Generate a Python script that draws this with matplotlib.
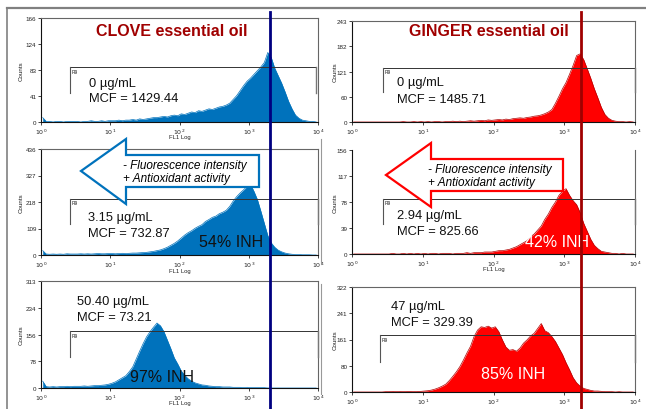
import matplotlib
matplotlib.use('Agg')
import matplotlib.pyplot as plt
import numpy as np
from matplotlib.patches import Polygon
from matplotlib.lines import Line2D

plt.rcParams['font.family'] = ['Liberation Sans', 'DejaVu Sans']

W, H = 646, 410

# ---------------- data (counts per 0.05-decade bin of FL1, 10^0 .. 10^4) ----------------
clove_0 = [7, 1, 1, 0, 1, 1, 0, 1, 1, 1,
           1, 0, 1, 1, 2, 1, 1, 2, 1, 2,
           2, 2, 3, 2, 3, 3, 4, 3, 5, 4,
           5, 6, 7, 7, 8, 9, 8, 10, 11, 10,
           13, 12, 14, 16, 15, 18, 17, 19, 21, 20,
           22, 24, 25, 27, 30, 36, 42, 50, 58, 65,
           70, 76, 82, 88, 95, 111, 103, 86, 74, 62,
           48, 33, 21, 11, 6, 3, 2, 1, 1, 0]
ginger_0 = [0, 0, 0, 0, 0, 0, 0, 0, 0, 0,
            0, 0, 0, 0, 1, 0, 0, 1, 0, 1,
            0, 1, 0, 1, 1, 0, 1, 1, 2, 1,
            2, 1, 2, 3, 2, 3, 4, 3, 5, 4,
            5, 6, 5, 7, 6, 8, 9, 10, 9, 11,
            12, 14, 15, 17, 20, 24, 30, 45, 62, 80,
            95, 115, 136, 160, 164, 150, 128, 105, 80, 58,
            35, 18, 9, 4, 2, 1, 1, 0, 1, 0]
clove_3 = [18, 4, 3, 4, 3, 4, 3, 5, 4, 4,
           4, 5, 4, 5, 4, 5, 6, 5, 5, 6,
           6, 5, 6, 7, 6, 7, 8, 8, 9, 10,
           11, 13, 15, 18, 21, 26, 32, 40, 48, 58,
           70, 82, 92, 100, 110, 118, 125, 138, 146, 155,
           160, 170, 176, 184, 200, 222, 240, 255, 268, 282,
           291, 262, 228, 180, 130, 80, 50, 32, 20, 13,
           8, 5, 3, 2, 2, 1, 1, 1, 0, 0]
ginger_2 = [0, 0, 0, 0, 0, 0, 0, 0, 0, 0,
            0, 1, 0, 0, 1, 0, 1, 0, 1, 0,
            1, 0, 1, 1, 0, 1, 1, 1, 0, 1,
            1, 1, 2, 1, 2, 2, 2, 3, 3, 3,
            4, 5, 5, 6, 7, 9, 11, 14, 17, 20,
            26, 30, 36, 42, 52, 60, 70, 78, 88, 94,
            98, 88, 80, 74, 62, 46, 34, 22, 13, 8,
            4, 3, 2, 1, 1, 0, 1, 0, 0, 0]
clove_50 = [20, 4, 3, 4, 3, 4, 4, 5, 4, 5,
            5, 5, 6, 5, 6, 7, 7, 8, 9, 11,
            14, 18, 24, 30, 36, 48, 62, 85, 108, 130,
            150, 165, 178, 190, 182, 165, 140, 115, 88, 70,
            50, 37, 27, 20, 15, 12, 9, 8, 6, 5,
            4, 4, 3, 3, 3, 2, 2, 2, 1, 2,
            1, 1, 1, 1, 1, 0, 0, 0, 0, 0,
            0, 0, 0, 0, 0, 0, 0, 0, 0, 0]
ginger_47 = [0, 0, 0, 0, 0, 0, 0, 0, 0, 1,
             1, 2, 1, 2, 1, 2, 2, 1, 2, 2,
             3, 4, 6, 9, 13, 18, 24, 35, 48, 62,
             78, 98, 120, 140, 170, 190, 200, 198, 202, 196,
             200, 185, 160, 138, 128, 130, 125, 135, 150, 160,
             172, 180, 195, 210, 188, 182, 170, 155, 135, 115,
             90, 68, 44, 28, 18, 11, 8, 5, 3, 3,
             2, 1, 1, 1, 0, 1, 0, 0, 0, 0]

yticks_list = [[0, 41, 83, 124, 166], [0, 60, 121, 182, 243],
               [0, 109, 218, 327, 436], [0, 39, 78, 117, 156],
               [0, 78, 156, 234, 313], [0, 80, 161, 241, 322]]
ymax_list = [166, 243, 436, 156, 313, 322]
# R9 gate: level, lower end of side ticks, start, end (FL1)
gate_level = [87, 131, 232, 83, 166, 174]
gate_low = [47, 71, 127, 45, 92, 93]
gate_start = [2.63, 2.75, 2.63, 2.75, 2.63, 2.5]
gate_end = [9500, 10000, 10000, 10000, 10000, 10000]

conc_labels = ['0 \u00b5g/mL', '0 \u00b5g/mL', '3.15 \u00b5g/mL', '2.94 \u00b5g/mL',
               '50.40 \u00b5g/mL', '47 \u00b5g/mL']
mcf_labels = ['MCF = 1429.44', 'MCF = 1485.71', 'MCF = 732.87', 'MCF = 825.66',
              'MCF = 73.21', 'MCF = 329.39']
inh_labels = [None, None, '54% INH', '42% INH', '97% INH', '85% INH']
titles = ['CLOVE essential oil', 'GINGER essential oil']
xtick_vals = [1, 10, 100, 1000, 10000]
xtick_labels = ['$10^{0}$', '$10^{1}$', '$10^{2}$', '$10^{3}$', '$10^{4}$']
ref_line = [2040, 1730]   # reference MCF marker (clove, ginger)

series = [clove_0, ginger_0, clove_3, ginger_2, clove_50, ginger_47]
log_edges = np.linspace(0, 4, 81)
centers = 10 ** (log_edges[:-1] + 0.025)

# ---------------- layout (pixels) ----------------
def fx(px):
    return px / W

def fy(py):
    return 1 - py / H

rects = [(41, 19, 318, 123), (352, 22, 635, 123),
         (41, 150, 318, 256), (352, 151, 635, 255),
         (41, 282, 318, 389), (352, 288, 635, 393)]
conc_pos = [(89, 84), (397, 83), (88, 218), (397, 216), (77, 302), (391, 307)]
mcf_pos = [(89, 99), (397, 100), (88, 234), (397, 232), (77, 318), (391, 323)]
inh_pos = [None, None, (231, 243), (557, 243), (162, 378), (513, 375)]
inh_col = [None, None, '#111111', 'white', '#111111', 'white']

fill_col = ['#0072BC', '#FF0000']
edge_col = ['#0072BC', '#B00000']

fig = plt.figure(figsize=(W / 100, H / 100), dpi=100)

axes = []
for i, (l, t, r, b) in enumerate(rects):
    ax = fig.add_axes([fx(l), fy(b), (r - l) / W, (b - t) / H])
    axes.append(ax)
    c = i % 2
    vals = np.array(series[i], dtype=float)
    ax.fill_between(centers, 0, vals, color=fill_col[c], lw=0, zorder=2)
    ax.plot(centers, vals, color=edge_col[c], lw=0.5, zorder=3)
    ax.set_xscale('log')
    ax.set_xlim(1, 10000)
    ax.set_ylim(0, ymax_list[i])
    ax.set_xticks(xtick_vals)
    ax.set_xticklabels(xtick_labels, fontsize=4.5)
    ax.minorticks_off()
    yt = yticks_list[i]
    ax.set_yticks(yt)
    ax.set_yticklabels([str(v) for v in yt], fontsize=4.5)
    ax.tick_params(direction='out', length=2.5, width=0.6, pad=0.8, colors='#222222')
    for s in ['left', 'bottom']:
        ax.spines[s].set_color('#111111')
        ax.spines[s].set_linewidth(0.8)
    for s in ['top', 'right']:
        ax.spines[s].set_color('#666666')
        ax.spines[s].set_linewidth(0.8)
    if i == 3:
        ax.spines['top'].set_visible(False)
    ax.patch.set_alpha(0)
    # gate
    g0, g1 = gate_start[i], gate_end[i]
    ax.plot([g0, g1], [gate_level[i], gate_level[i]], color='#333333', lw=0.7, zorder=4,
            clip_on=False)
    ax.plot([g0, g0], [gate_low[i], gate_level[i]], color='#555555', lw=0.8, zorder=4)
    ax.plot([g1, g1], [gate_low[i], gate_level[i]], color='#777777', lw=1.0, zorder=4,
            clip_on=False)
    ax.text(g0 * 1.06, gate_level[i] - ymax_list[i] * 0.015, 'R9', fontsize=3.5,
            va='top', ha='left', color='#222222', zorder=5)
    # axis labels
    xl = 21 if c == 0 else 335
    fig.text(fx(xl), fy((t + b) / 2), 'Counts', rotation=90, fontsize=4.5,
             ha='center', va='center', color='#222222')
    if i != 5 and i != 1:
        fig.text(fx((l + r) / 2), fy(b + 15), 'FL1 Log', fontsize=4.2,
                 ha='center', va='center', color='#222222')

# titles
fig.text(fx(172), fy(32), titles[0], fontsize=11.5, fontweight='bold', color='#A00000',
         ha='center', va='center')
fig.text(fx(489), fy(32), titles[1], fontsize=11.5, fontweight='bold', color='#A00000',
         ha='center', va='center')

# arrows
arrow_specs = [((81, 172), 126, 140, 205, 156, 188, 259, '#0072BC'),
               ((386, 176), 431, 144, 208, 160, 192, 563, '#FF0000')]
for (tx, ty), hx, ht, hb, st, sb, rx, col in arrow_specs:
    pts = [(tx, ty), (hx, ht), (hx, st), (rx, st), (rx, sb), (hx, sb), (hx, hb)]
    poly = Polygon([(fx(p), fy(q)) for p, q in pts], closed=True, facecolor='white',
                   edgecolor=col, lw=1.6, transform=fig.transFigure, zorder=10)
    fig.add_artist(poly)
for (x0, y0, y1) in [(123, 166, 179), (428, 170, 183)]:
    fig.text(fx(x0), fy(y0), '- Fluorescence intensity', fontsize=8.5, style='italic',
             ha='left', va='center', zorder=11)
    fig.text(fx(x0), fy(y1), '+ Antioxidant activity', fontsize=8.5, style='italic',
             ha='left', va='center', zorder=11)

# value texts
for i in range(6):
    fig.text(fx(conc_pos[i][0]), fy(conc_pos[i][1]), conc_labels[i], fontsize=9.3,
             ha='left', va='center', color='#111111', zorder=12)
    fig.text(fx(mcf_pos[i][0]), fy(mcf_pos[i][1]), mcf_labels[i], fontsize=9.3,
             ha='left', va='center', color='#111111', zorder=12)
    if inh_labels[i]:
        fig.text(fx(inh_pos[i][0]), fy(inh_pos[i][1]), inh_labels[i], fontsize=11.5,
                 ha='center', va='center', color=inh_col[i], zorder=12)

# reference vertical lines across all rows
for c, colr in enumerate(['#000080', '#A00000']):
    pos = axes[c].get_position()
    xfig = pos.x0 + pos.width * np.log10(ref_line[c]) / 4
    fig.add_artist(Line2D([xfig, xfig], [fy(13), 0], transform=fig.transFigure,
                          color=colr, lw=2, zorder=20))

# frame lines
fig.add_artist(Line2D([fx(7), 1], [fy(8.5), fy(8.5)], transform=fig.transFigure,
                      color='#808080', lw=1.6, zorder=1))
fig.add_artist(Line2D([fx(7), fx(7)], [fy(8.5), 0], transform=fig.transFigure,
                      color='#808080', lw=1.2, zorder=1))
fig.add_artist(Line2D([fx(321), fx(321)], [fy(140), fy(265)], transform=fig.transFigure,
                      color='#999999', lw=0.8, zorder=1))
fig.add_artist(Line2D([fx(321), fx(321)], [fy(285), fy(395)], transform=fig.transFigure,
                      color='#999999', lw=0.8, zorder=1))

fig.savefig('out.png', dpi=100)
